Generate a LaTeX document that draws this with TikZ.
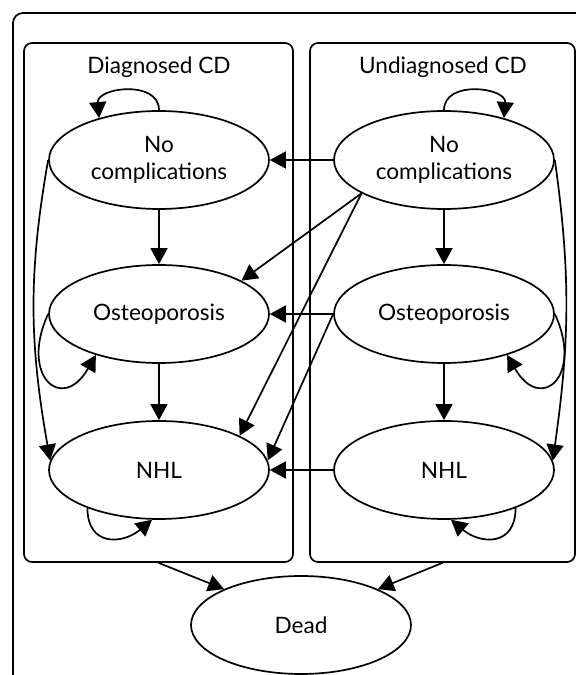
\documentclass[tikz,border=0pt]{standalone}
\usepackage{fontspec}
\setmainfont{Lato}
\usetikzlibrary{shapes.geometric,arrows.meta}

\begin{document}
\begin{tikzpicture}[x=0.5pt, y=0.5pt, line width=0.85pt, font=\fontsize{11.3}{13.3}\selectfont, >={Triangle[length=8pt, width=8.5pt]}, state/.style = {shape=ellipse, draw, align=center, fill=white, minimum height=49pt, minimum width=110pt, inner sep=0pt}, group/.style = {shape=rectangle, draw, rounded corners=4pt, minimum height=259.5pt}, title/.style = {shape=rectangle, align=center}]
	\clip (0,0) rectangle (576,675);
	\draw[rounded corners=5pt] (13,-20) rectangle (596,662);
	\node[group, minimum width=134.5pt] (dbox) at (158.5,372.5) {};
	\node[group, minimum width=132.5pt] (ubox) at (442.5,372.5) {};
	\node[title] (dtitle) at (159,608) {Diagnosed CD};
	\node[title] (utitle) at (443,608) {Undiagnosed CD};
	\node[state] (dnc) at (159,515) {No\\complications};
	\node[state] (dost) at (159,361) {Osteoporosis};
	\node[state] (dnhl) at (159,205) {NHL};
	\node[state] (unc) at (444,515) {No\\complications};
	\node[state] (uost) at (444,361) {Osteoporosis};
	\node[state] (unhl) at (444,205) {NHL};
	\node[state] (dead) at (301,50) {Dead};
	\draw[->] (dnc) -- (dost);
	\draw[->] (dost) -- (dnhl);
	\draw[->] (unc) -- (uost);
	\draw[->] (uost) -- (unhl);
	\draw[->] (unc) -- (dnc);
	\draw[->] (uost) -- (dost);
	\draw[->] (unhl) -- (dnhl);
	\draw[->] (unc.202) -- (dost.22);
	\draw[->] (unc.202) -- (dnhl.23);
	\draw[->] (uost.west) -- (dnhl.5);
	\draw[->] (dbox.south) -- (dead.155);
	\draw[->] (ubox.south) -- (dead.25);
	\draw[->] (dnc.north) to[out=90, in=95, looseness=1.3] (dnc.145);
	\draw[->] (unc.north) to[out=90, in=85, looseness=1.3] (unc.35);
	\draw[->] (dost.west) .. controls +(245:34pt) and +(240:34pt) .. (dost.213);
	\draw[->] (uost.east) .. controls +(295:34pt) and +(300:34pt) .. (uost.327);
	\draw[->] (dnhl.208) to[out=270, in=220, looseness=1.5] (dnhl.262);
	\draw[->] (unhl.332) to[out=270, in=320, looseness=1.5] (unhl.278);
	\draw[->] (dnc.west) to[out=260, in=100] (dnhl.175);
	\draw[->] (unc.east) to[out=278, in=82] (unhl.5);
\end{tikzpicture}
\end{document}
